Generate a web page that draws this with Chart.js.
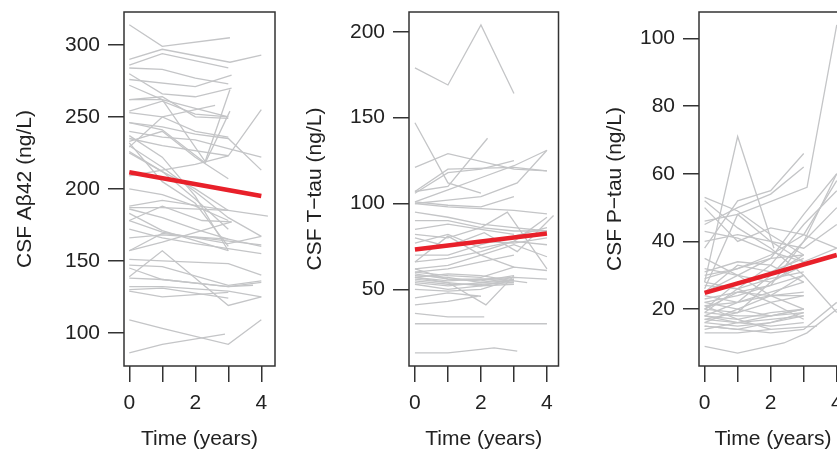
<!DOCTYPE html>
<html>
<head>
<meta charset="utf-8">
<script src="https://cdn.jsdelivr.net/npm/chart.js@4.4.1/dist/chart.umd.min.js"></script>
<style>
  html, body { margin: 0; padding: 0; background: #fff; }
  body { width: 837px; height: 452px; overflow: hidden; position: relative; }
  canvas { position: absolute; top: 0; }
</style>
</head>
<body>
<canvas id="ab" width="280" height="452" style="left:0px"></canvas>
<canvas id="ttau" width="280" height="452" style="left:290px"></canvas>
<canvas id="ptau" width="272" height="452" style="left:580px"></canvas>
<script>
// visit times (years) and values per subject
const abTimes = [
  [0,1,3.05],[0,1,3.05,4],[0,1,3],[0,1,2,3],[0,1,2,3.1],[0,2,3.1],[0,1,2,3],[0,1,2.6],
  [0,1,2,3],[0,1,2,3],[0,1,2.3,3.05],[0,1,2.3,3.05],[0,1,3,4],[0,1,2,3,4],[0,1,2,3,4],
  [0,1,2,3],[0,1,2,3],[0,1,2,3],[0,1,2,3],[0,1,2,3,4],[0,1,2,3],[0,1,2,3],[0,1,3,4.2],
  [0,1,3],[0,1,3],[0,1,2.2,3.1],[0,1,3.1],[0,1,4],[0,1,2,4],[0,1,2,3,4],[0,1,3,4],
  [0,1,3,4],[0,1,3,4],[0,1,3,4],[0,1,3,3.75],[0,1,3,4],[0,1,3,4],[0,1,3],[0,1,3],
  [0,1,3,4],[0,1,2.9],[0,1,2,3],[0,1,3],[0,1,2,3]
];
const abValues = [
  [314,299,305],[290,297,288,293],[286,294,284],[284,283,277,273],[280,266,264,270],[276,271,279],[272,262,256,250],[253,250,258],
  [262,264,250,249],[254,261,252,250],[262,262,219,269],[246,241,218,254],[235,230,223,255],[246,243,238,235,213],[240,236,234,228,222],
  [233,240,222,207],[229,250,240,236],[237,222,195,157],[232,205,190,160],[230,215,198,180,167],[209,213,217,223],[225,212,200,185],[188,192,185,181],
  [187,187,185],[183,171,157],[178,188,178,177],[157,163,177],[157,169,161],[172,166,162,155],[186,180,172,165,160],[178,170,162,167],
  [139,157,119,125],[151,150,148,140],[147,146,133,136],[145,137,132,133],[138,137,132,135],[132,132,129,125],[129,125,128],[130,131,124],
  [109,103,92,109],[86,92,99],[226,212,193,172],[166,168,165],[200,196,188,178]
];

const ttauTimes = [
  [0,1,2,3],[0,1,2],[0,1,3,4],[0,1,2.2],[0,1,3,4],[0,1,2,3,4],[0,1,2,3.1,4],[0,1,2,3],
  [0,1,2,3],[0,1,2,3,4],[0,1,2,3,4],[0,1,2,3,4],[0,1,2,2.8,4],[0,1,2.1,3.1,4.2],[0,1,2,3,4],
  [0,1,2,3,4],[0,1,2,3,4],[0,1,2,3,4],[0,1,2,3,4],[0,1,2,3],[0,1,2,3],[0,1,2,3,3.4],
  [0,1,2,3],[0,1,2,3],[0,1,2,3],[0,1,2,3],[0,1,2,3],[0,1,2.15,3],[0,1,2],[0,1,1.9],
  [0,1,2.1],[0,3,4],[0,1,2.4,3.1],[0,1,2,3],[0,1,2,3,4],[0,1,2,3],[0,1,2,3],[0,1,2,3],[0,1,2,3,4]
];
const ttauValues = [
  [179,169,204,164],[147,112,106],[121,129,120,119],[107,110,138],[107,120,121,119],[101,108,115,122,131],[100,102,104,112,131],[106,118,120,125],
  [101,99,98,104],[100,98,97,96,94],[95,92,88,86,84],[90,90,86,84,84],[82,80,86,95,62],[80,75,83,72,93],[77,82,74,78,76],
  [70,70,76,81,86],[66,68,72,78,92],[62,64,70,76,69],[60,58,57,63,61],[59,56,55,58],[58,57,54,55],[57,55,56,55,54],
  [56,54,52,56],[55,53,53,54],[54,52,54,57],[53,50,52,53],[57,59,58,55],[57,54,41,58],[45,48,46],[41,43,46],
  [36,34,34],[30,30,30],[13,13,16,14],[66,81,70,63],[73,75,78,77,80],[85,88,85,82],[60,62,66,70],[50,49,50,56],[62,56,56,57,56]
];

const ptauTimes = [
  [0,1,3.1,4],[0,1,2.1],[0,1,2,3],[0,1,2,3],[0,1,2,3],[0,1,2,3],[0,1,2,3],[0,1,2,3,4],
  [0,1,2,3,4],[0,1,2,3,4],[0,1,2,3,4],[0,1,2,3],[0,1,2.4,3.1,4],[0,1,2,3.4],[0,1,2,3],
  [0,1,2,3],[0,1,2,3],[0,1,2,3],[0,1,2,3],[0,1,2,3],[0,1,2,3],[0,1,2,3],[0,1,2,3],
  [0,1,2,3],[0,1,2,3],[0,1,2,3],[0,1,2,3],[0,1,2,3],[0,1,2,3,4],[0,1,2,3,4],[0,1,2,3,4],
  [0,1,2,3,4],[0,1,2,3],[0,1,2,3],[0,1,2],[0,1,2,3],[0,1,2,3,4],[0,1,2,3],[0,1,2,3,4],
  [0,1,2,3],[0,1,2,3],[0,1,2,3]
];
const ptauValues = [
  [46,48,56,104],[28,71,38],[53,49,42,36],[52,44,38,30],[38,52,55,66],[45,50,54,62],[40,42,40,34],[30,32,36,42,58],
  [25,30,35,48,60],[20,28,30,40,50],[26,48,40,38,45],[32,30,24,20],[9,7,10,13,20],[13,13,14,15],[15,14,16,18],
  [16,15,16,19],[17,16,17,18],[18,17,19,20],[19,18,18,19],[20,19,22,24],[21,22,24,25],[22,20,18,20],[23,25,27,30],
  [24,22,25,28],[27,26,29,31],[29,32,35,36],[31,34,33,28],[35,30,28,33],[15,14,13,14,22],[17,19,28,34,38],[19,26,33,45,55],
  [16,20,24,30,19],[14,16,18,20],[18,16,15,16],[21,17,14],[43,41,37,34],[50,40,44,42,38],[25,33,31,35],[22,24,27,40,60],
  [18,22,30,36],[28,26,22,17],[20,25,24,24]
];

// fitted mean trajectories
const fitTimes = [0, 4];
const abFit = [211.5, 195];
const ttauFit = [73.2, 82.6];
const ptauFit = [24.8, 36];

// axis ticks
const xTicks = [0, 1, 2, 3, 4];
const xLabels = ['0', '', '2', '', '4'];
const abTicks = [100, 150, 200, 250, 300];
const ttauTicks = [50, 100, 150, 200];
const ptauTicks = [20, 40, 60, 80, 100];

Chart.defaults.font.family = '"Liberation Sans", Arial, sans-serif';
Chart.defaults.font.size = 21;
Chart.defaults.color = '#222';

const boxPlugin = {
  id: 'box',
  afterDraw(chart) {
    const {ctx, chartArea: a} = chart;
    ctx.save();
    ctx.strokeStyle = '#333';
    ctx.lineWidth = 1.5;
    ctx.strokeRect(a.left, a.top, a.right - a.left, a.bottom - a.top);
    ctx.restore();
  }
};

function makePanel(id, p) {
  const datasets = [{
    data: fitTimes.map((t, i) => ({x: t, y: p.fit[i]})),
    borderColor: '#e8202a',
    borderWidth: 4.5
  }];
  p.times.forEach((ts, k) => {
    datasets.push({
      data: ts.map((t, i) => ({x: t, y: p.values[k][i]})),
      borderColor: '#c4c5c7',
      borderWidth: 1.3
    });
  });

  new Chart(document.getElementById(id), {
    type: 'line',
    data: {datasets},
    plugins: [boxPlugin],
    options: {
      responsive: false,
      animation: false,
      devicePixelRatio: 1,
      events: [],
      layout: {padding: {top: 12, left: 0, right: p.padRight, bottom: 0}},
      elements: {point: {radius: 0}, line: {tension: 0}},
      plugins: {legend: {display: false}, tooltip: {enabled: false}},
      scales: {
        x: {
          type: 'linear',
          min: p.xMin,
          max: p.xMax,
          afterFit: s => { s.height = 86; s.paddingLeft = 0; s.paddingRight = 0; },
          afterBuildTicks: s => { s.ticks = xTicks.map(v => ({value: v})); },
          ticks: {padding: 9, maxRotation: 0, autoSkip: false, color: '#222',
                  callback: (v, i) => xLabels[i]},
          grid: {drawOnChartArea: false, tickLength: 16, color: '#333', lineWidth: 1.5},
          border: {display: false},
          title: {display: true, text: 'Time (years)', color: '#222', padding: {top: 0, bottom: 0}}
        },
        y: {
          type: 'linear',
          min: p.yMin,
          max: p.yMax,
          afterFit: s => { s.width = p.yAxisW; s.paddingTop = 0; s.paddingBottom = 0; },
          afterBuildTicks: s => { s.ticks = p.ticks.map(v => ({value: v})); },
          ticks: {padding: 8, color: '#222'},
          grid: {drawOnChartArea: false, tickLength: 16, color: '#333', lineWidth: 1.5},
          border: {display: false},
          title: {display: true, text: p.title, color: '#222', padding: {top: p.titlePad, bottom: 0}}
        }
      }
    }
  });
}

makePanel('ab', {
  times: abTimes, values: abValues, fit: abFit, ticks: abTicks,
  title: 'CSF A\u03b242 (ng/L)', yMin: 76.9, yMax: 322.9,
  xMin: -0.16, xMax: 4.415, yAxisW: 124, padRight: 5, titlePad: 13
});
makePanel('ttau', {
  times: ttauTimes, values: ttauValues, fit: ttauFit, ticks: ttauTicks,
  title: 'CSF T\u2212tau (ng/L)', yMin: 5.4, yMax: 211.5,
  xMin: -0.18, xMax: 4.35, yAxisW: 119, padRight: 11.5, titlePad: 12.5
});
makePanel('ptau', {
  times: ptauTimes, values: ptauValues, fit: ptauFit, ticks: ptauTicks,
  title: 'CSF P\u2212tau (ng/L)', yMin: 3.2, yMax: 107.8,
  xMin: -0.17, xMax: 4.31, yAxisW: 119, padRight: 5, titlePad: 22.5
});
</script>
</body>
</html>
